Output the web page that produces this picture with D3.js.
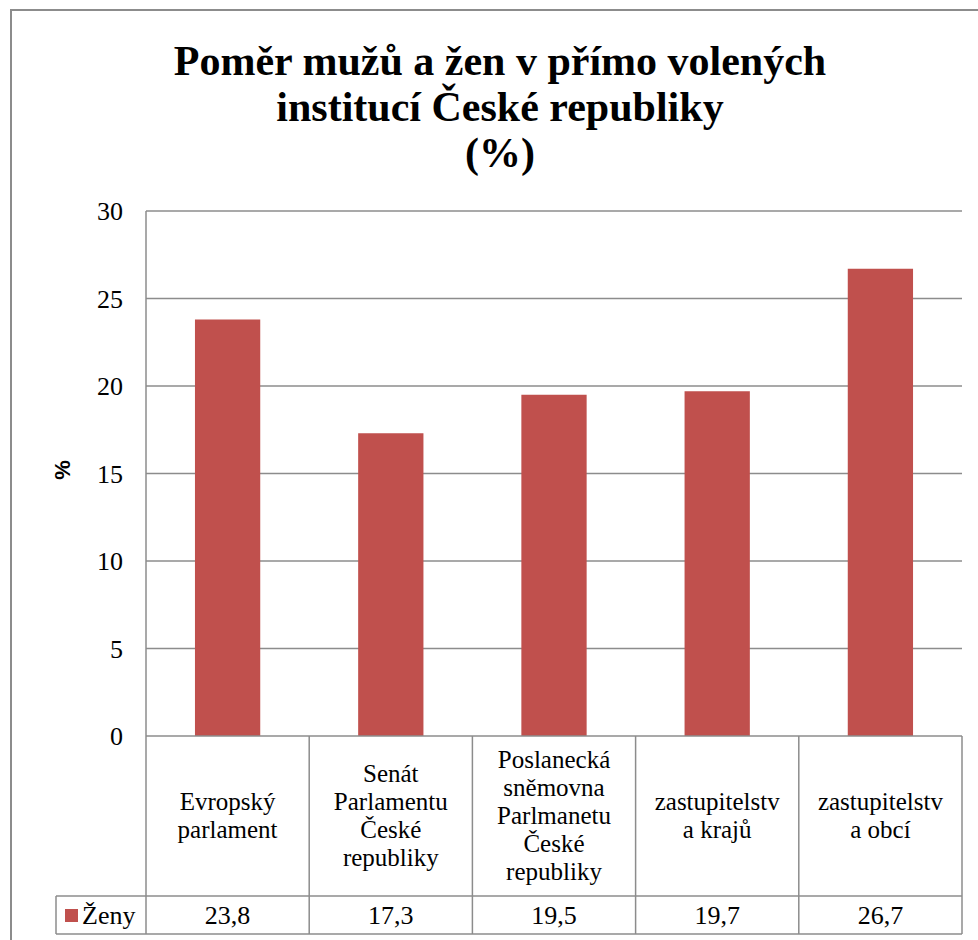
<!DOCTYPE html>
<html><head><meta charset="utf-8">
<script src="https://cdn.jsdelivr.net/npm/d3@7"></script>
<style>
svg text { font-family: "Liberation Serif" !important; }
svg text.sans { font-family: "Liberation Sans" !important; }
</style>
</head><body style="margin:0">
<script>
const titleLines = ["Poměr mužů a žen v přímo volených", "institucí České republiky", "(%)"];
const categories = [
  ["Evropský", "parlament"],
  ["Senát", "Parlamentu", "České", "republiky"],
  ["Poslanecká", "sněmovna", "Parlmanetu", "České", "republiky"],
  ["zastupitelstv", "a krajů"],
  ["zastupitelstv", "a obcí"]
];
const seriesName = "Ženy";
const values = [23.8, 17.3, 19.5, 19.7, 26.7];
const valueLabels = ["23,8", "17,3", "19,5", "19,7", "26,7"];
const yTicks = [0, 5, 10, 15, 20, 25, 30];
const yLabel = "%";

const W = 978, H = 940;
const FONT = "Liberation Serif";
const svg = d3.select("body").append("svg").attr("width", W).attr("height", H)
  .attr("font-family", FONT);
const grey = "#8c8c8c", barColor = "#C0504D";

svg.append("path").attr("d", `M11,${H} L11,10 L${W},10`).attr("fill","none").attr("stroke", grey).attr("stroke-width",2);

svg.append("g").selectAll("text").data(titleLines).join("text")
  .attr("x", 500).attr("y", (d,i) => 75 + i*46)
  .attr("text-anchor","middle").attr("font-weight","bold").attr("font-size", 42)
  .attr("font-family", FONT)
  .text(d => d);

const pLeft = 146, pRight = 962, pTop = 211, pBottom = 736;
const x = d3.scaleBand().domain(d3.range(categories.length)).range([pLeft, pRight]).paddingInner(0.6).paddingOuter(0.3);
const xCell = d3.scaleBand().domain(d3.range(categories.length)).range([pLeft, pRight]);
const y = d3.scaleLinear().domain([0, 30]).range([pBottom, pTop]);

svg.append("g").selectAll("line").data(yTicks.filter(t => t > 0)).join("line")
  .attr("x1", pLeft).attr("x2", pRight).attr("y1", d => y(d)).attr("y2", d => y(d))
  .attr("stroke", grey).attr("stroke-width", 1.5);

svg.append("line").attr("x1", pLeft).attr("x2", pLeft).attr("y1", pTop).attr("y2", pBottom).attr("stroke", grey).attr("stroke-width",1.5);

svg.append("g").selectAll("text").data(yTicks).join("text")
  .attr("x", 123).attr("y", d => y(d) + 9).attr("text-anchor","end").attr("font-size", 26)
  .attr("font-family", FONT)
  .text(d => d);

svg.append("text").attr("class","sans").attr("transform", `translate(70,470) rotate(-90)`).attr("text-anchor","middle")
  .attr("font-weight","bold").attr("font-size", 22).attr("font-family", "Liberation Sans").text(yLabel);

svg.append("g").selectAll("rect").data(values).join("rect")
  .attr("x", (d,i) => x(i)).attr("width", x.bandwidth())
  .attr("y", d => y(d)).attr("height", d => y(0) - y(d))
  .attr("fill", barColor);

const rowTop = pBottom, rowMid = 896, rowBot = 934, legLeft = 56;
const tbl = svg.append("g").attr("stroke", grey).attr("stroke-width", 1.5).attr("fill","none");
tbl.append("line").attr("x1", pLeft).attr("x2", pRight).attr("y1", rowTop).attr("y2", rowTop);
tbl.append("line").attr("x1", legLeft).attr("x2", pRight).attr("y1", rowMid).attr("y2", rowMid);
tbl.append("line").attr("x1", legLeft).attr("x2", pRight).attr("y1", rowBot).attr("y2", rowBot);
tbl.append("line").attr("x1", legLeft).attr("x2", legLeft).attr("y1", rowMid).attr("y2", rowBot);
tbl.selectAll("line.v").data(d3.range(categories.length + 1)).join("line").attr("class","v")
  .attr("x1", i => i < categories.length ? xCell(i) : pRight).attr("x2", i => i < categories.length ? xCell(i) : pRight)
  .attr("y1", rowTop).attr("y2", rowBot);

const lh = 28;
svg.append("g").selectAll("text").data(categories).join("text")
  .attr("text-anchor","middle").attr("font-size", 25)
  .attr("font-family", FONT)
  .each(function(lines, i) {
    const cx = xCell(i) + xCell.bandwidth()/2;
    const cy = (rowTop + rowMid)/2;
    const y0 = cy - (lines.length - 1) * lh / 2 + 8;
    d3.select(this).selectAll("tspan").data(lines).join("tspan")
      .attr("x", cx).attr("y", (d,k) => y0 + k*lh).text(d => d);
  });

svg.append("g").selectAll("text").data(valueLabels).join("text")
  .attr("x", (d,i) => xCell(i) + xCell.bandwidth()/2).attr("y", 924)
  .attr("text-anchor","middle").attr("font-size", 26)
  .attr("font-family", FONT).text(d => d);

svg.append("rect").attr("x", 65).attr("y", 909).attr("width", 13).attr("height", 13).attr("fill", barColor);
svg.append("text").attr("x", 82).attr("y", 924).attr("font-size", 26).attr("font-family", FONT).text(seriesName);
</script>
</body></html>
